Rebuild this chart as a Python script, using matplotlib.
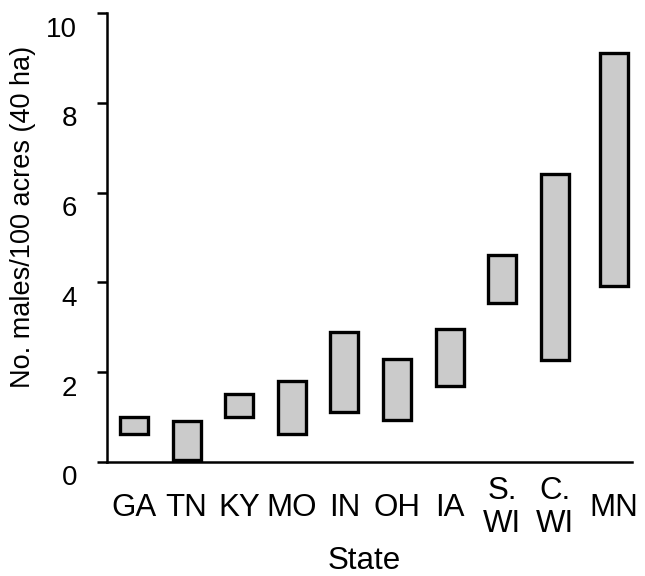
import numpy as np
import matplotlib
matplotlib.use("Agg")
import matplotlib.pyplot as plt
from matplotlib.transforms import ScaledTranslation

# ── data: range of male densities per state ─────────────────────────
states = ["GA", "TN", "KY", "MO", "IN", "OH", "IA", "S.\nWI", "C.\nWI", "MN"]
low = [0.61, 0.03, 0.99, 0.61, 1.11, 0.93, 1.68, 3.54, 2.27, 3.92]
high = [0.99, 0.90, 1.50, 1.79, 2.89, 2.28, 2.97, 4.61, 6.42, 9.12]

plt.rcParams["font.family"] = ["Liberation Sans", "DejaVu Sans"]

fig = plt.figure(figsize=(6.45, 5.76), dpi=100)
ax = fig.add_axes([0.1659, 0.1984, 0.8139, 0.7785])

xpos = np.arange(len(states), dtype=float)
xpos[-1] += 0.125   # MN sits a little further right

heights = np.array(high) - np.array(low)
ax.bar(xpos, heights, bottom=low, width=0.53, color="#cbcbcb",
       edgecolor="black", linewidth=2.4, zorder=3)

ax.set_xlim(-0.513, 9.468)
ax.set_ylim(0, 10)
ax.set_yticks([0, 2, 4, 6, 8, 10])
ax.set_xticks(xpos)
ax.set_xticklabels(states, fontsize=22.5, va="center", linespacing=1.12)

for s in ["top", "right"]:
    ax.spines[s].set_visible(False)
for s in ["left", "bottom"]:
    ax.spines[s].set_linewidth(1.8)

ax.tick_params(axis="x", length=0, pad=33)
ax.tick_params(axis="y", length=7.5, width=1.8, labelsize=20, pad=14)

# y tick labels sit a bit below their ticks in the original
shift = ScaledTranslation(0, -13.5 / 100, fig.dpi_scale_trans)
for lab in ax.get_yticklabels():
    lab.set_transform(lab.get_transform() + shift)

ax.set_xlabel("State", fontsize=22.5)
ax.xaxis.set_label_coords(0.490, -0.188)
ax.set_ylabel("No. males/100 acres (40 ha)", fontsize=19.5)
ax.yaxis.set_label_coords(-0.135, 0.546)

fig.savefig("out.png", dpi=100)
